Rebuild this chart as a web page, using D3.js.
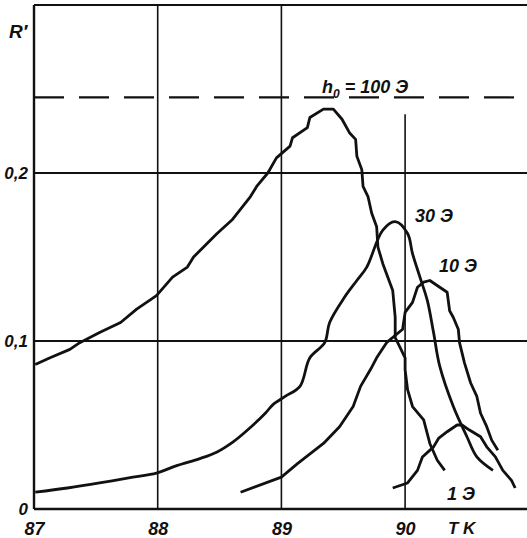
<!DOCTYPE html>
<html>
<head>
<meta charset="utf-8">
<script src="https://cdn.jsdelivr.net/npm/d3@7"></script>
<style>
  html, body { margin: 0; padding: 0; background: #fff; }
  svg { display: block; }
  text { font-family: "Liberation Sans", "DejaVu Sans", sans-serif; font-style: italic; fill: #111; }
</style>
</head>
<body>
<div id="chart"></div>
<script>
// ── data (T in K, R' dimensionless) ──
const xTicks = [87, 88, 89, 90];
const yTicks = [0, 0.1, 0.2];
const dashLevel = 0.245;

const h100 = [
  [87.01, 0.086], [87.13, 0.090], [87.29, 0.095], [87.37, 0.099], [87.53, 0.105],
  [87.70, 0.111], [87.83, 0.119], [87.99, 0.127], [88.12, 0.138], [88.24, 0.144],
  [88.29, 0.150], [88.48, 0.164], [88.60, 0.172], [88.75, 0.186], [88.80, 0.192],
  [88.89, 0.200], [88.96, 0.209], [89.07, 0.216], [89.09, 0.221], [89.21, 0.227],
  [89.23, 0.233], [89.34, 0.238], [89.42, 0.238], [89.49, 0.232], [89.55, 0.224],
  [89.60, 0.220], [89.61, 0.210], [89.65, 0.202], [89.66, 0.192], [89.70, 0.186],
  [89.73, 0.176], [89.77, 0.168], [89.78, 0.156], [89.82, 0.146], [89.84, 0.142],
  [89.90, 0.130], [89.92, 0.114], [89.92, 0.102], [89.96, 0.096], [90.00, 0.090],
  [90.00, 0.083], [90.02, 0.071], [90.06, 0.061], [90.15, 0.053], [90.20, 0.039],
  [90.26, 0.029], [90.32, 0.023]
];

const h30 = [
  [87.01, 0.010], [87.27, 0.0125], [87.53, 0.0155], [87.80, 0.019], [87.99, 0.0214],
  [88.16, 0.026], [88.34, 0.030], [88.48, 0.034], [88.61, 0.040], [88.71, 0.046],
  [88.87, 0.057], [88.93, 0.062], [89.03, 0.067], [89.15, 0.073], [89.23, 0.090],
  [89.35, 0.099], [89.39, 0.111], [89.51, 0.126], [89.61, 0.136], [89.69, 0.144],
  [89.82, 0.166], [89.92, 0.171], [90.02, 0.164], [90.06, 0.152], [90.12, 0.138],
  [90.18, 0.124], [90.23, 0.105], [90.28, 0.085], [90.39, 0.061], [90.50, 0.043],
  [90.58, 0.031], [90.71, 0.023]
];

const h10 = [
  [88.67, 0.010], [89.00, 0.019], [89.13, 0.027], [89.34, 0.039], [89.47, 0.049],
  [89.58, 0.061], [89.64, 0.073], [89.72, 0.083], [89.77, 0.090], [89.85, 0.099],
  [89.98, 0.107], [90.00, 0.117], [90.06, 0.123], [90.10, 0.132], [90.15, 0.135],
  [90.20, 0.136], [90.28, 0.132], [90.34, 0.129], [90.36, 0.118], [90.39, 0.114],
  [90.43, 0.107], [90.44, 0.099], [90.48, 0.087], [90.53, 0.075], [90.58, 0.067],
  [90.61, 0.057], [90.66, 0.049], [90.70, 0.041], [90.75, 0.035]
];

const h1 = [
  [89.90, 0.0125], [90.02, 0.0155], [90.10, 0.023], [90.14, 0.031], [90.23, 0.037],
  [90.27, 0.042], [90.34, 0.046], [90.42, 0.050], [90.46, 0.050], [90.52, 0.047],
  [90.61, 0.043], [90.66, 0.037], [90.73, 0.031], [90.79, 0.023], [90.86, 0.017],
  [90.89, 0.0125]
];

// ── layout ──
const W = 527, H = 538;
const x = d3.scaleLinear().domain([87, 91]).range([34, 528.8]);
const y = d3.scaleLinear().domain([0, 0.3]).range([509, 5]);

const svg = d3.select("#chart").append("svg")
  .attr("width", W).attr("height", H);

// grid
const g = svg.append("g");
g.selectAll(".hg").data(yTicks.slice(1).concat([0.3]))
  .enter().append("line")
  .attr("x1", x(87)).attr("x2", W)
  .attr("y1", d => y(d)).attr("y2", d => y(d))
  .attr("stroke", "#111").attr("stroke-width", 1.8);
g.selectAll(".vg").data(xTicks.slice(1))
  .enter().append("line")
  .attr("x1", d => x(d)).attr("x2", d => x(d))
  .attr("y1", y(0))
  .attr("y2", d => d === 90 ? y(0.235) : y(0.3))
  .attr("stroke", "#111").attr("stroke-width", 1.6);

// axes frame
g.append("line").attr("x1", x(87)).attr("x2", x(87)).attr("y1", y(0.3)).attr("y2", y(0))
  .attr("stroke", "#111").attr("stroke-width", 2.4);
g.append("line").attr("x1", x(87)).attr("x2", W).attr("y1", y(0)).attr("y2", y(0))
  .attr("stroke", "#111").attr("stroke-width", 2.4);

// dashed h0 level
g.append("line")
  .attr("x1", x(87)).attr("x2", W)
  .attr("y1", y(dashLevel)).attr("y2", y(dashLevel))
  .attr("stroke", "#111").attr("stroke-width", 2.2)
  .attr("stroke-dasharray", "30,15");

// tick labels
const yAx = svg.append("g").attr("transform", `translate(${x(87)},0)`)
  .call(d3.axisLeft(y).tickValues(yTicks).tickSize(0).tickPadding(6)
    .tickFormat(d => d === 0 ? "0" : d3.format(".1f")(d).replace(".", ",")));
yAx.select(".domain").remove();
yAx.selectAll("text").style("font-size", "17px").style("font-family", "Liberation Sans")
  .style("font-style", "italic").style("font-weight", "bold").attr("fill", "#111");

const xAx = svg.append("g").attr("transform", `translate(0,${y(0)})`)
  .call(d3.axisBottom(x).tickValues(xTicks).tickSize(0).tickPadding(13)
    .tickFormat(d3.format("d")));
xAx.select(".domain").remove();
xAx.selectAll("text").style("font-size", "18px").style("font-family", "Liberation Sans")
  .style("font-style", "italic").style("font-weight", "bold").attr("fill", "#111");

svg.append("text").attr("x", 9).attr("y", 38).style("font-size", "19px")
  .style("font-weight", "bold").text("R′");
svg.append("text").attr("x", 448).attr("y", 534).style("font-size", "17px")
  .style("font-weight", "bold").text("T K");

// curves
const line = d3.line().x(d => x(d[0])).y(d => y(d[1]));
const smooth = d3.line().x(d => x(d[0])).y(d => y(d[1])).curve(d3.curveCatmullRom);
[[h100, line], [h30, smooth], [h10, line], [h1, line]].forEach(([d, gen]) => {
  svg.append("path").datum(d)
    .attr("d", gen)
    .attr("fill", "none")
    .attr("stroke", "#111")
    .attr("stroke-width", 2.8)
    .attr("stroke-linejoin", "round");
});

// curve labels
const lab = svg.append("g").style("font-size", "18px").style("font-weight", "bold");
const h0 = lab.append("text").attr("x", 322).attr("y", 93);
h0.append("tspan").text("h");
h0.append("tspan").attr("dy", 5).style("font-size", "12px").text("0");
h0.append("tspan").attr("dy", -5).text(" = 100 Э");
lab.append("text").attr("x", 415).attr("y", 222).text("30 Э");
lab.append("text").attr("x", 439).attr("y", 272).text("10 Э");
lab.append("text").attr("x", 447).attr("y", 500).text("1 Э");
</script>
</body>
</html>
